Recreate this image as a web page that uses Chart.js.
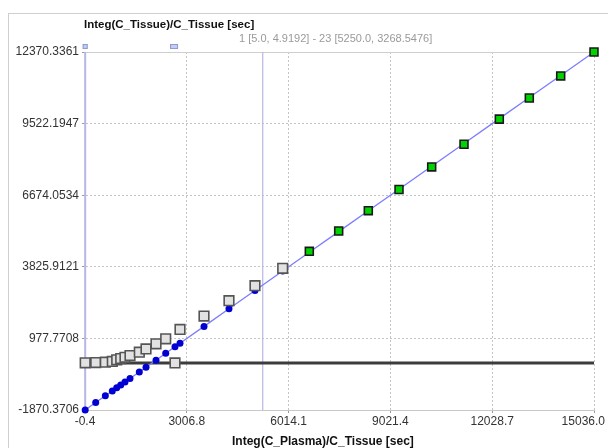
<!DOCTYPE html>
<html>
<head>
<meta charset="utf-8">
<script src="https://cdn.jsdelivr.net/npm/chart.js@4/dist/chart.umd.min.js"></script>
<style>
  body { margin: 0; background: #fff; }
  #wrap { position: relative; width: 608px; height: 448px; overflow: hidden; font-family: "Liberation Sans", Arial, sans-serif; }
  #frame { position: absolute; left: 8px; top: 13px; width: 700px; height: 500px; border-top: 1px solid #cfcfcf; border-left: 1px solid #cfcfcf; }
  canvas { position: absolute; left: 0; top: 0; }
  .lbl { position: absolute; white-space: nowrap; }
  #ytitle { left: 84px; top: 18px; font-weight: bold; font-size: 11.5px; color: #111; }
  #sub { left: 239px; top: 32px; font-size: 11px; color: #9a9a9a; }
  #xtitle { left: 232px; top: 434px; font-weight: bold; font-size: 12px; color: #111; }
</style>
</head>
<body>
<div id="wrap">
  <div id="frame"></div>
  <canvas id="chart" width="608" height="448"></canvas>
  <div class="lbl" id="ytitle">Integ(C_Tissue)/C_Tissue [sec]</div>
  <div class="lbl" id="sub">1 [5.0, 4.9192] - 23 [5250.0, 3268.5476]</div>
  <div class="lbl" id="xtitle">Integ(C_Plasma)/C_Tissue [sec]</div>
</div>
<script>
// x = Integ(C_Plasma)/C_Tissue, one entry per frame
const plasmaInteg = [5, 316, 600, 806, 936, 1055, 1181, 1329, 1604, 1802, 2097, 2384, 2658, 2806,
  3515, 4253, 5021, 5840, 6626, 7494, 8369, 9276, 10241, 11196, 12239, 13125, 14052, 15036];
// measured Integ(C_Tissue)/C_Tissue
const tissueInteg = [4.92, 15, 30, 60, 124, 176, 224, 296, 431, 560, 762, 960, 0, 1333,
  1867, 2478, 3076, 3766, 4440, 5250, 6060, 6900, 7800, 8700, 9700, 10540, 11420, 12370.3];
// regression line values at each frame
const modelInteg = [-1870.4, -1575.7, -1306.7, -1111.5, -988.3, -875.6, -756.2, -616.0, -355.5, -167.9,
  111.6, 383.5, 643.0, 783.3, 1454.9, 2154.1, 2881.5, 3657.5, 4402.2, 5224.5, 6053.5, 6912.8,
  7827.1, 8731.8, 9719.9, 10559.3, 11437.5, 12370.3];
const fitStart = 18; // frames from here on are in the fit

const xTicks = [-0.4, 3006.8, 6014.1, 9021.4, 12028.7, 15036.0];
const xTickLabels = ['-0.4', '3006.8', '6014.1', '9021.4', '12028.7', '15036.0'];
const yTicks = [-1870.3706, 977.7708, 3825.9121, 6674.0534, 9522.1947, 12370.3361];
const yTickLabels = ['-1870.3706', '977.7708', '3825.9121', '6674.0534', '9522.1947', '12370.3361'];

const baselineY = 0;
const markerX = [5, 5250];
const handleX = [5, 2630];

const FONT = "'Liberation Sans', Arial, sans-serif";

const pts = (ys, from, to) => plasmaInteg.slice(from, to).map((x, i) => ({ x, y: ys[from + i] }));

// x labels are drawn by hand so the last one can be pulled inside the canvas
const edgeLabels = {
  id: 'edgeLabels',
  afterDraw(chart) {
    const { ctx, chartArea, scales } = chart;
    const xs = scales.x;
    ctx.save();
    ctx.font = '12px ' + FONT;
    ctx.fillStyle = '#333';
    ctx.textBaseline = 'middle';
    xTicks.forEach((v, i) => {
      const w = ctx.measureText(xTickLabels[i]).width;
      let left = xs.getPixelForValue(v) - w / 2;
      left = Math.min(left, chart.width - 3 - w);
      ctx.fillText(xTickLabels[i], left, chartArea.bottom + 12);
    });
    // range handles above the plot
    ctx.fillStyle = '#c4cdf0';
    ctx.strokeStyle = '#8c9ad8';
    ctx.lineWidth = 1;
    handleX.forEach((v, i) => {
      const px = xs.getPixelForValue(v);
      const w = i === 0 ? 5 : 8;
      ctx.fillRect(px - w / 2, chartArea.top - 8, w, 5);
      ctx.strokeRect(px - w / 2 + 0.5, chartArea.top - 7.5, w - 1, 4);
    });
    ctx.restore();
  },
};

new Chart(document.getElementById('chart'), {
  type: 'scatter',
  data: {
    datasets: [
      {
        label: 'fit',
        data: pts(tissueInteg, fitStart, plasmaInteg.length),
        pointStyle: 'rect',
        pointRadius: 5.6,
        backgroundColor: '#00d400',
        borderColor: '#1a1a1a',
        borderWidth: 1.6,
        clip: false,
        order: 1,
      },
      {
        label: 'measured',
        data: pts(tissueInteg, 0, fitStart),
        pointStyle: 'rect',
        pointRadius: 6.8,
        backgroundColor: '#e2e2e2',
        borderColor: '#555',
        borderWidth: 1.6,
        clip: false,
        order: 2,
      },
      {
        label: 'model',
        data: pts(modelInteg, 0, plasmaInteg.length),
        showLine: true,
        borderColor: '#7c7cff',
        borderWidth: 1.3,
        pointRadius: 3.5,
        pointBackgroundColor: '#0000d2',
        pointBorderWidth: 0,
        clip: false,
        order: 3,
      },
      {
        label: 'zero',
        data: [{ x: xTicks[0], y: baselineY }, { x: xTicks[xTicks.length - 1], y: baselineY }],
        showLine: true,
        borderColor: '#3c3c3c',
        borderWidth: 3,
        pointRadius: 0,
        order: 4,
      },
      ...markerX.map((mx, i) => ({
        label: 'marker',
        data: [{ x: mx, y: yTicks[0] }, { x: mx, y: yTicks[yTicks.length - 1] }],
        showLine: true,
        borderColor: '#b6b6e8',
        borderWidth: i === 0 ? 2 : 1.2,
        pointRadius: 0,
        clip: false,
        order: 5,
      })),
    ],
  },
  options: {
    responsive: false,
    animation: false,
    events: [],
    layout: { padding: { top: 52, right: 14, left: 0, bottom: 0 } },
    plugins: {
      legend: { display: false },
      tooltip: { enabled: false },
    },
    scales: {
      x: {
        type: 'linear',
        min: xTicks[0],
        max: xTicks[xTicks.length - 1],
        afterBuildTicks: s => { s.ticks = xTicks.map(v => ({ value: v })); },
        afterFit: s => { s.height = 38; s.paddingLeft = 0; s.paddingRight = 0; },
        ticks: { display: false },
        grid: {
          color: c => (c.index === 0 ? 'transparent' : '#c4c4c4'),
          tickLength: 3,
          tickColor: '#999',
        },
        border: { color: '#c8c8c8', width: 1, dash: [2, 2] },
      },
      y: {
        type: 'linear',
        min: yTicks[0],
        max: yTicks[yTicks.length - 1],
        afterBuildTicks: s => { s.ticks = yTicks.map(v => ({ value: v })); },
        afterFit: s => { s.width = 85; },
        ticks: {
          color: '#333',
          padding: 3,
          font: { size: 12, family: FONT },
          callback: (v, i) => yTickLabels[i],
        },
        grid: {
          color: c => (c.index === 0 ? 'transparent' : c.index === yTicks.length - 1 ? '#cfcfcf' : '#c4c4c4'),
          tickLength: 3,
          tickColor: '#999',
        },
        border: {
          color: '#b6b6e8',
          width: 1,
          dash: c => (c.index === yTicks.length - 1 ? [] : [2, 2]),
        },
      },
    },
  },
  plugins: [edgeLabels],
});
</script>
</body>
</html>
